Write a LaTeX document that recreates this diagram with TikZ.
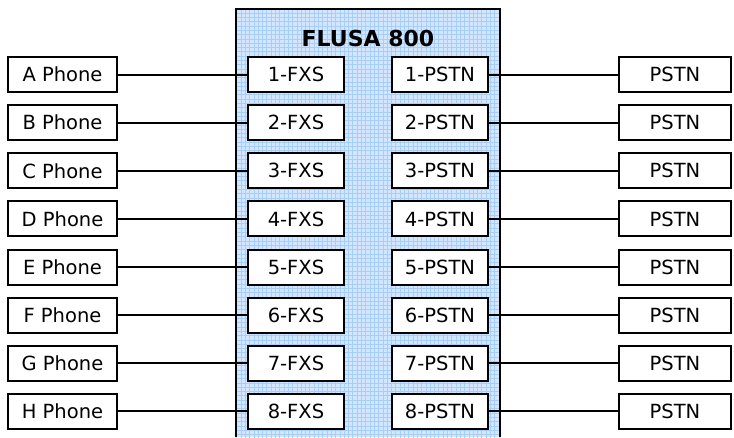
\documentclass[tikz,border=0pt]{standalone}
\usepackage{fontspec}
\setmainfont{DejaVu Sans}
\definecolor{panelfill}{HTML}{D2E7FF}
\definecolor{gridc}{HTML}{A6CEF8}
\tikzset{
  box/.style={draw=black, line width=2pt, fill=white, minimum height=35pt, inner sep=0pt, font=\fontsize{19.5}{22}\selectfont},
  phone/.style={box, minimum width=109pt},
  port/.style={box, minimum width=96pt},
  line/.style={box, minimum width=112pt},
  wire/.style={draw=black, line width=2pt},
}
\begin{document}
\begin{tikzpicture}[x=1pt,y=-1pt]
\useasboundingbox (0,0) rectangle (734,437);
% panel
\fill[panelfill] (236,9) rectangle (500,437);
\begin{scope}
\clip (236,9) rectangle (500,437);
\draw[gridc, line width=0.35pt, step=4.3pt] (236,9) grid (501,438);
\end{scope}
\draw[black, line width=2pt] (236,437) -- (236,9) -- (500,9) -- (500,437);
\node[font=\bfseries\fontsize{22}{25}\selectfont] (title) at (368,38) {FLUSA 800};
\foreach \i/\L in {1/A,2/B,3/C,4/D,5/E,6/F,7/G,8/H}{
  \pgfmathsetmacro{\yy}{74.5+(\i-1)*48.14}
  \node[phone] (ph\i) at (62.5,\yy) {\L\ Phone};
  \node[port] (fxs\i) at (296,\yy) {\i-FXS};
  \node[port] (pp\i) at (440,\yy) {\i-PSTN};
  \node[line] (ps\i) at (675,\yy) {PSTN};
  \draw[wire] (ph\i) -- (fxs\i);
  \draw[wire] (pp\i) -- (ps\i);
}
\end{tikzpicture}
\end{document}
